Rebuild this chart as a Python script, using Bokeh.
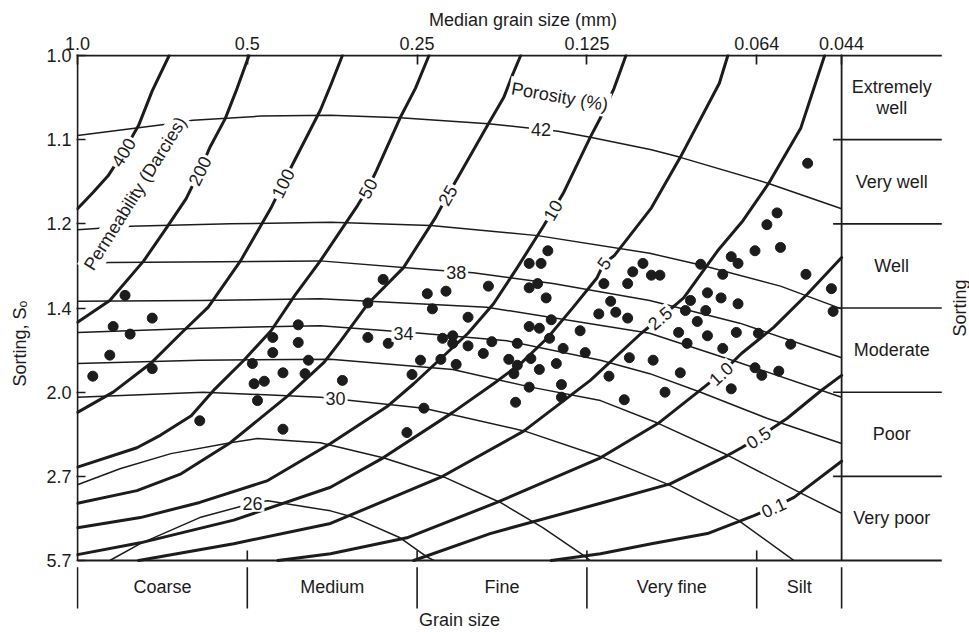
from bokeh.plotting import figure
from bokeh.models import Range1d, FixedTicker
from bokeh.core.properties import value
from bokeh.embed import file_html
from bokeh.resources import INLINE

INK = "#1c1c1c"
FONT = "Liberation Sans"

# ---------------- axes / categories ----------------
size_ticks_phi = [0, 1, 2, 3, 4, 4.5]
size_tick_labels = ["1.0", "0.5", "0.25", "0.125", "0.064", "0.044"]
sort_ticks_pos = [0, 1, 2, 3, 4, 5, 6]
sort_tick_labels = ["1.0", "1.1", "1.2", "1.4", "2.0", "2.7", "5.7"]
sorting_classes = ["Extremely\nwell", "Very well", "Well", "Moderate", "Poor", "Very poor"]
grain_classes = ["Coarse", "Medium", "Fine", "Very fine", "Silt"]
grain_class_edges = [0, 1, 2, 3, 4, 4.5]

# ---------------- samples (phi, sorting position) ----------------
sample_phi = [4.30, 4.12, 4.06, 3.99, 4.14, 3.85, 3.89, 3.67, 3.80, 4.29, 4.44, 4.45,
              3.33, 3.38, 3.43, 3.71, 3.79, 3.61, 3.89, 3.58, 3.70, 3.65, 3.54, 3.71,
              3.88, 3.59, 4.01, 3.80, 4.20, 3.39, 3.55, 3.99, 4.03, 4.13, 3.46, 3.85,
              1.80, 1.71, 2.06, 2.17, 2.09, 2.42, 2.30, 1.71, 1.83, 2.15, 2.21, 2.21,
              2.30, 2.44, 2.59, 2.39, 2.02, 2.14, 2.23, 1.97, 1.56, 2.54, 2.59, 2.67,
              2.57, 2.72, 2.82, 2.66, 2.85, 2.85, 2.58, 2.04, 2.77, 2.66, 2.73, 2.66,
              2.71, 2.76, 2.66, 2.72, 2.79, 2.78, 2.86, 2.96, 2.99, 3.10, 3.14, 3.17,
              3.24, 3.07, 3.24, 3.27, 3.25, 3.13, 3.22, 0.28, 0.21, 0.31, 0.44, 0.19,
              0.09, 0.44, 1.30, 1.30, 1.15, 1.15, 1.03, 1.36, 1.21, 1.34, 1.04, 1.10,
              1.06, 0.72, 1.21, 1.94]
sample_sort = [1.28, 1.87, 2.01, 2.32, 2.28, 2.39, 2.47, 2.48, 2.60, 2.60, 2.77, 3.04,
               2.47, 2.61, 2.61, 2.82, 2.88, 2.91, 2.95, 3.03, 3.03, 3.16, 3.29, 3.33,
               3.29, 3.42, 3.30, 3.48, 3.43, 3.62, 3.77, 3.71, 3.80, 3.75, 4.00, 3.96,
               2.66, 2.94, 2.83, 2.80, 3.01, 2.74, 3.11, 3.35, 3.42, 3.36, 3.33, 3.42,
               3.45, 3.40, 3.42, 3.54, 3.62, 3.61, 3.67, 3.79, 3.86, 3.61, 3.68, 3.60,
               3.78, 3.73, 3.66, 3.94, 3.91, 4.06, 4.12, 4.19, 2.32, 2.47, 2.47, 2.76,
               2.71, 2.88, 3.22, 3.24, 3.14, 3.36, 3.48, 3.27, 3.53, 2.71, 2.92, 3.05,
               3.12, 3.07, 2.71, 2.57, 3.59, 3.81, 4.09, 2.85, 3.22, 3.31, 3.12, 3.56,
               3.81, 3.72, 3.20, 3.41, 3.35, 3.53, 3.66, 3.62, 3.77, 3.78, 3.90, 3.87,
               4.10, 4.34, 4.44, 4.48]

# ---------------- porosity curves (%) ----------------
por42_x = [0, 0.51, 0.68, 1.08, 1.49, 1.90, 2.42, 2.83, 3.02, 3.38, 3.55, 4.07, 4.50]
por42_y = [0.95, 0.82, 0.77, 0.72, 0.71, 0.74, 0.81, 0.90, 0.97, 1.12, 1.21, 1.52, 1.82]
por40_x = [0, 0.31, 0.90, 1.49, 2.08, 2.71, 3.37, 3.67, 4.14, 4.50]
por40_y = [2.07, 2.03, 2.00, 1.98, 2.02, 2.14, 2.35, 2.49, 2.74, 3.01]
por38_x = [0, 0.19, 0.84, 1.43, 2.12, 2.33, 2.80, 3.37, 3.90, 4.50]
por38_y = [2.47, 2.46, 2.45, 2.44, 2.55, 2.58, 2.71, 2.91, 3.18, 3.59]
por36_x = [0, 0.72, 1.43, 2.41, 3.37, 3.90, 4.50]
por36_y = [2.92, 2.91, 2.89, 2.99, 3.30, 3.65, 4.06]
por34_x = [0, 0.72, 1.43, 2.02, 2.53, 3.08, 3.37, 3.67, 4.06, 4.50]
por34_y = [3.29, 3.24, 3.21, 3.30, 3.39, 3.62, 3.78, 4.00, 4.31, 4.61]
por32_x = [0, 0.72, 1.49, 2.21, 2.67, 3.08, 3.42, 3.83, 4.26, 4.50]
por32_y = [3.66, 3.62, 3.61, 3.73, 3.94, 4.10, 4.37, 4.75, 5.20, 5.44]
por30_x = [0, 0.74, 1.43, 2.04, 2.63, 3.10, 3.47, 3.89, 4.22]
por30_y = [4.06, 4.00, 4.06, 4.19, 4.46, 4.78, 5.09, 5.52, 6.00]
por28_x = [0, 0.25, 0.55, 0.90, 1.06, 1.43, 1.80, 2.16, 2.49, 2.74, 2.98, 3.02]
por28_y = [5.10, 4.91, 4.73, 4.60, 4.55, 4.60, 4.78, 5.01, 5.31, 5.61, 5.94, 6.00]
por26_x = [0.19, 0.37, 0.72, 1.03, 1.12, 1.49, 1.63, 1.90, 2.06, 2.10]
por26_y = [6.00, 5.80, 5.49, 5.32, 5.29, 5.41, 5.49, 5.73, 5.96, 6.00]

por_label_text = ["42", "38", "34", "30", "26"]
por_label_x = [2.73, 2.23, 1.92, 1.52, 1.03]
por_label_y = [0.88, 2.58, 3.30, 4.08, 5.32]

# ---------------- permeability curves (Darcies) ----------------
k400_x = [0.54, 0.44, 0.36, 0.27, 0.18, 0.09, 0]
k400_y = [0, 0.42, 0.83, 1.15, 1.43, 1.63, 1.82]
k200_x = [1.01, 0.94, 0.87, 0.78, 0.72, 0.64, 0.52, 0.39, 0.19, 0]
k200_y = [0, 0.39, 0.75, 1.09, 1.37, 1.70, 2.06, 2.44, 2.91, 3.17]
k100_x = [1.56, 1.49, 1.43, 1.27, 1.21, 1.14, 0.96, 0.77, 0.61, 0.43, 0.21, 0]
k100_y = [0, 0.36, 0.65, 1.28, 1.52, 1.81, 2.44, 2.99, 3.30, 3.66, 4.00, 4.24]
k50_x = [2.07, 1.99, 1.90, 1.76, 1.71, 1.65, 1.43, 1.28, 1.14, 0.98, 0.81, 0.67, 0.49, 0.35, 0]
k50_y = [0, 0.39, 0.74, 1.37, 1.58, 1.78, 2.44, 2.85, 3.27, 3.62, 3.96, 4.28, 4.51, 4.66, 4.89]
k25_x = [2.61, 2.56, 2.51, 2.42, 2.24, 2.18, 2.11, 1.92, 1.71, 1.55, 1.45, 1.24, 0.90, 0.61, 0.35, 0]
k25_y = [0, 0.24, 0.50, 0.81, 1.45, 1.66, 1.92, 2.52, 2.95, 3.39, 3.65, 4.04, 4.60, 4.97, 5.17, 5.32]
k10_x = [3.23, 3.16, 3.08, 3.02, 2.86, 2.80, 2.74, 2.59, 2.45, 2.30, 2.14, 1.98, 1.83, 1.49,
         1.12, 0.72, 0.37, 0]
k10_y = [0, 0.39, 0.74, 0.97, 1.64, 1.84, 2.04, 2.52, 2.95, 3.30, 3.60, 3.90, 4.16, 4.61,
         5.05, 5.31, 5.49, 5.61]
k5_x = [3.83, 3.78, 3.55, 3.38, 3.16, 3.10, 3.06, 2.92, 2.77, 2.61, 2.45, 2.21, 1.80, 1.49,
        0.92, 0.37, 0]
k5_y = [0, 0.33, 1.21, 1.81, 2.38, 2.47, 2.64, 2.99, 3.35, 3.66, 3.90, 4.24, 4.78, 5.13,
        5.52, 5.79, 5.93]
k2_5_x = [4.40, 4.26, 4.07, 3.92, 3.77, 3.57, 3.43, 3.32, 3.02, 2.63, 2.14, 1.49, 0.92, 0.36]
k2_5_y = [0, 0.86, 1.52, 1.96, 2.32, 2.88, 3.12, 3.30, 3.86, 4.46, 5.01, 5.56, 5.80, 6.00]
k1_x = [4.50, 4.30, 4.10, 3.91, 3.79, 3.69, 3.42, 3.08, 2.47, 1.94, 1.49, 1.18]
k1_y = [2.40, 2.83, 3.23, 3.54, 3.78, 3.94, 4.37, 4.78, 5.31, 5.73, 5.92, 6.00]
k0_5_x = [4.50, 4.38, 4.18, 4.01, 3.91, 3.83, 3.49, 3.08, 2.43, 1.98]
k0_5_y = [3.80, 3.98, 4.31, 4.54, 4.66, 4.75, 5.09, 5.32, 5.68, 6.00]
k0_1_x = [4.50, 4.22, 4.10, 3.98, 3.71, 3.38, 3.08, 2.79]
k0_1_y = [4.82, 5.25, 5.37, 5.47, 5.68, 5.80, 5.92, 6.00]

perm_label_text = ["400", "200", "100", "50", "25", "10", "5", "2.5", "1.0", "0.5", "0.1"]
perm_label_x = [0.27, 0.72, 1.21, 1.71, 2.18, 2.80, 3.10, 3.43, 3.79, 4.01, 4.10]
perm_label_y = [1.15, 1.37, 1.52, 1.58, 1.66, 1.84, 2.47, 3.12, 3.78, 4.54, 5.37]
perm_label_angle = [58, 64, 64, 63, 60, 60, 54, 40, 43, 33, 24]

porosity_curves = [(por42_x, por42_y), (por40_x, por40_y), (por38_x, por38_y),
                   (por36_x, por36_y), (por34_x, por34_y), (por32_x, por32_y),
                   (por30_x, por30_y), (por28_x, por28_y), (por26_x, por26_y)]
perm_curves = [(k400_x, k400_y), (k200_x, k200_y), (k100_x, k100_y), (k50_x, k50_y),
               (k25_x, k25_y), (k10_x, k10_y), (k5_x, k5_y), (k2_5_x, k2_5_y),
               (k1_x, k1_y), (k0_5_x, k0_5_y), (k0_1_x, k0_1_y)]

# ---------------- figure ----------------
PHI_END = 5.09          # right end of top / bottom rules
p = figure(width=969, height=632, output_backend="svg", toolbar_location=None,
           x_range=Range1d(-0.0059, 5.2532), y_range=Range1d(6.8552, -0.0119),
           x_axis_location="above", y_axis_location="left")
p.min_border = 0
p.min_border_left = 76
p.min_border_top = 54
p.min_border_right = 0
p.min_border_bottom = 0
p.outline_line_color = None
p.xgrid.visible = False
p.ygrid.visible = False
p.background_fill_color = "white"
p.border_fill_color = "white"

for ax in (p.xaxis[0], p.yaxis[0]):
    ax.axis_line_color = None
    ax.major_tick_out = 0
    ax.minor_tick_line_color = None
    ax.major_tick_line_color = INK
    ax.major_tick_line_width = 1.7
    ax.major_label_text_font = FONT
    ax.major_label_text_font_size = "18px"
    ax.major_label_text_color = INK
    ax.axis_label_text_font = FONT
    ax.axis_label_text_font_size = "18px"
    ax.axis_label_text_font_style = "normal"
    ax.axis_label_text_color = INK

xa = p.xaxis[0]
xa.ticker = FixedTicker(ticks=size_ticks_phi)
xa.major_label_overrides = {t: l for t, l in zip(size_ticks_phi, size_tick_labels)}
xa.major_tick_in = 10
xa.major_label_standoff = 5
xa.bounds = (0, 4.55)
xa.axis_label = "Median grain size (mm)"
xa.axis_label_standoff = 4

ya = p.yaxis[0]
ya.ticker = FixedTicker(ticks=sort_ticks_pos)
ya.major_label_overrides = {t: l for t, l in zip(sort_ticks_pos, sort_tick_labels)}
ya.major_tick_in = 9
ya.major_label_standoff = 5
ya.bounds = (0, 6.8)
ya.axis_label = "Sorting, S\u2092"
ya.axis_label_standoff = 13

# frame rules
top_pos, bot_pos = sort_ticks_pos[0], sort_ticks_pos[-1]
left_phi, right_phi = size_ticks_phi[0], size_ticks_phi[-1]
p.segment(x0=[left_phi, left_phi, left_phi, right_phi],
          y0=[top_pos, top_pos, bot_pos, top_pos],
          x1=[left_phi, PHI_END, PHI_END, right_phi],
          y1=[bot_pos, top_pos, bot_pos, bot_pos],
          line_color=INK, line_width=1.8)
# sorting-class separators on the right
sep_pos = sort_ticks_pos[1:-1]
p.segment(x0=[4.45] * len(sep_pos), y0=sep_pos, x1=[PHI_END] * len(sep_pos), y1=sep_pos,
          line_color=INK, line_width=1.6)
# inward ticks on the bottom rule
inner = size_ticks_phi[1:-1]
p.segment(x0=inner, y0=[bot_pos] * len(inner), x1=inner, y1=[bot_pos - 0.12] * len(inner),
          line_color=INK, line_width=1.6)
# grain-class separators below the chart
p.segment(x0=grain_class_edges, y0=[6.08] * len(grain_class_edges),
          x1=grain_class_edges, y1=[6.57] * len(grain_class_edges),
          line_color=INK, line_width=1.6)

# curves
for xs, ys in porosity_curves:
    p.line(xs, ys, line_color=INK, line_width=1.5, line_join="round")
for xs, ys in perm_curves:
    p.line(xs, ys, line_color=INK, line_width=3.0, line_join="round", line_cap="round")

# samples
p.scatter(sample_phi, sample_sort, size=10, color=INK)

txt = dict(text_font=value(FONT), text_font_size="18px", text_color=INK,
           text_align="center", text_baseline="middle")

# curve labels (white box opens a gap in the line)
p.text(x=por_label_x, y=por_label_y, text=por_label_text,
       background_fill_color="white", padding=2, **txt)
p.text(x=perm_label_x, y=perm_label_y, text=perm_label_text, angle=perm_label_angle,
       angle_units="deg", background_fill_color="white", padding=2, **txt)
p.text(x=[0.34], y=[1.64], text=["Permeability (Darcies)"], angle=[58], angle_units="deg",
       background_fill_color="white", padding=2, **txt)
p.text(x=[2.84], y=[0.49], text=["Porosity (%)"], angle=[-10], angle_units="deg",
       background_fill_color="white", padding=2, **txt)

# sorting class names
cls_x = (right_phi + PHI_END) / 2
p.text(x=[cls_x] * len(sorting_classes), y=[i + 0.5 for i in range(len(sorting_classes))],
       text=sorting_classes, text_line_height=1.05, **txt)
p.text(x=[5.20], y=[3.0], text=["Sorting"], angle=[90], angle_units="deg", **txt)

# grain class names
mid = [(a + b) / 2 for a, b in zip(grain_class_edges[:-1], grain_class_edges[1:])]
p.text(x=mid, y=[6.31] * len(mid), text=grain_classes, **txt)
p.text(x=[2.25], y=[6.83], text=["Grain size"], text_font=value(FONT), text_font_size="18px",
       text_color=INK, text_align="center", text_baseline="bottom")

open("out.html", "w").write(file_html(p, INLINE))
